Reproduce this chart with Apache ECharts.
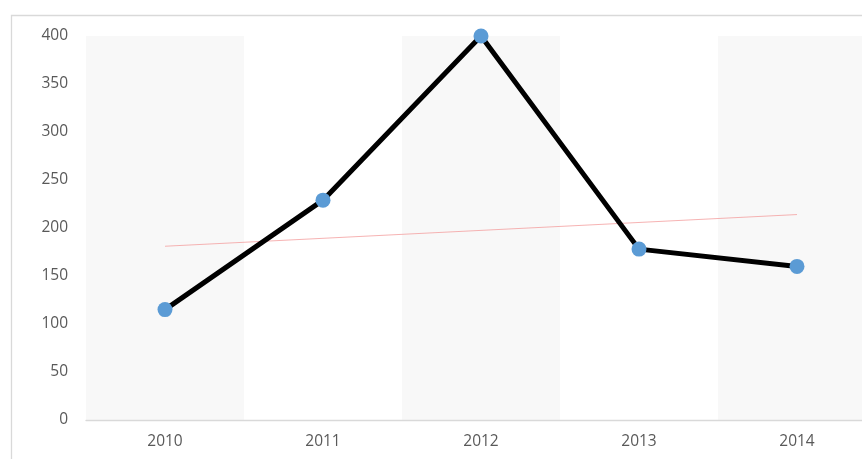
<!DOCTYPE html>
<html>
<head>
<meta charset="utf-8">
<script src="https://cdn.jsdelivr.net/npm/echarts@6/dist/echarts.min.js"></script>
<style>html,body{margin:0;padding:0;background:#fff;}#c{width:862px;height:459px;}</style>
</head>
<body>
<div id="c"></div>
<script>
const categories = ['2010', '2011', '2012', '2013', '2014'];
const values = [115, 229, 400, 178, 160];
const trendStart = 181;
const trendEnd = 214;
const yTicks = [0, 50, 100, 150, 200, 250, 300, 350, 400];

const chart = echarts.init(document.getElementById('c'));
chart.setOption({
  animation: false,
  backgroundColor: '#fff',
  grid: { left: 86, top: 36, width: 790, height: 384, containLabel: false, outerBoundsMode: 'none' },
  graphic: [{
    type: 'rect', left: 9, top: 13,
    shape: { width: 900, height: 500 },
    style: { fill: 'none', stroke: '#d9d9d9', lineWidth: 1.3 },
    silent: true, z: -1
  }],
  xAxis: {
    type: 'category',
    data: categories,
    boundaryGap: true,
    axisLine: { lineStyle: { color: '#d9d9d9', width: 1.3 } },
    axisTick: { show: false },
    axisLabel: { color: '#595959', fontSize: 15.5, fontFamily: 'Open Sans', margin: 14 },
    splitArea: { show: true, areaStyle: { color: ['#f8f8f8', '#ffffff'] } },
    splitLine: { show: false }
  },
  yAxis: {
    type: 'value',
    min: yTicks[0], max: yTicks[yTicks.length - 1], interval: 50,
    axisLine: { show: false },
    axisTick: { show: false },
    splitLine: { show: false },
    axisLabel: { color: '#595959', fontSize: 15.5, fontFamily: 'Open Sans', margin: 18 }
  },
  series: [
    {
      type: 'line',
      data: [[categories[0], trendStart], [categories[categories.length - 1], trendEnd]],
      symbol: 'none',
      lineStyle: { color: '#f4a0a0', width: 0.8 },
      z: 1
    },
    {
      type: 'line',
      data: values,
      symbol: 'circle',
      symbolSize: 15,
      itemStyle: { color: '#5b9bd5' },
      lineStyle: { color: '#000', width: 5 },
      z: 3
    }
  ]
});
</script>
</body>
</html>
